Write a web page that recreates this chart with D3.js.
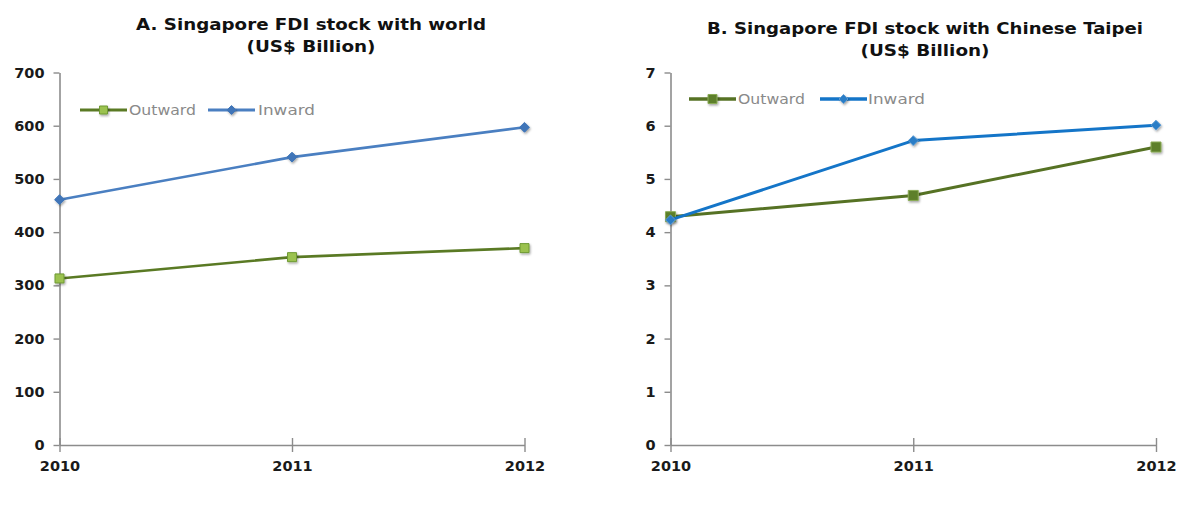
<!DOCTYPE html>
<html>
<head>
<meta charset="utf-8">
<script src="https://cdn.jsdelivr.net/npm/d3@7"></script>
<style>
  html, body { margin: 0; padding: 0; background: #fff; }
  svg { display: block; }
  text { font-family: "DejaVu Sans", Verdana, sans-serif; }
</style>
</head>
<body>
<svg id="chart" width="1190" height="529"></svg>
<script>
// Years on the category axis
const years = [2010, 2011, 2012];

// Panel A: Singapore FDI stock with world (US$ billion)
const worldOutward = [313, 353, 370];
const worldInward  = [461, 541, 597];
const worldTicks   = [0, 100, 200, 300, 400, 500, 600, 700];

// Panel B: Singapore FDI stock with Chinese Taipei (US$ billion)
const taipeiOutward = [4.29, 4.69, 5.60];
const taipeiInward  = [4.23, 5.72, 6.01];
const taipeiTicks   = [0, 1, 2, 3, 4, 5, 6, 7];

const seriesNames = ["Outward", "Inward"];

const svg = d3.select("#chart");

const defs = svg.append("defs");
const shadow = defs.append("filter").attr("id", "mshadow")
  .attr("x", "-50%").attr("y", "-50%").attr("width", "200%").attr("height", "200%");
shadow.append("feDropShadow").attr("dx", 1).attr("dy", 1.5).attr("stdDeviation", 1)
  .attr("flood-color", "#000").attr("flood-opacity", 0.35);

const panels = [
  {
    title: ["A. Singapore FDI stock with world", "(US$ Billion)"],
    titleX: 311, titleY: [30, 52], titleLen: [350, 129],
    x0: 59.5, x1: 524.5, yTop: 72.5, yBottom: 445,
    ticks: worldTicks,
    series: [
      { values: worldOutward, line: "#5a7a24", width: 2.6, marker: "square",
        fill: "#9bc24f", stroke: "#6f9a34", size: 9 },
      { values: worldInward, line: "#4a7fc1", width: 2.6, marker: "diamond",
        fill: "#3f75b8", stroke: "#3f75b8", size: 10 }
    ],
    legend: { y: 110, items: [
      { x: 80, textX: 129, textLen: 67 },
      { x: 208, textX: 258, textLen: 57 }
    ] }
  },
  {
    title: ["B. Singapore FDI stock with Chinese Taipei", "(US$ Billion)"],
    titleX: 925, titleY: [34, 56], titleLen: [436, 129],
    x0: 670.5, x1: 1156, yTop: 72.5, yBottom: 445,
    ticks: taipeiTicks,
    series: [
      { values: taipeiOutward, line: "#567224", width: 3, marker: "square",
        fill: "#5d7f2a", stroke: "#8aab55", size: 10 },
      { values: taipeiInward, line: "#1475c8", width: 3, marker: "diamond",
        fill: "#2a7dc6", stroke: "#5b9ad4", size: 10 }
    ],
    legend: { y: 99, items: [
      { x: 689, textX: 738, textLen: 67 },
      { x: 820, textX: 868, textLen: 57 }
    ] }
  }
];

function drawMarker(g, type, cx, cy, s) {
  const sym = type === "square"
    ? d3.symbol(d3.symbolSquare, s.size * s.size)
    : d3.symbol(d3.symbolDiamond2, s.size * s.size * 0.62);
  g.append("path")
    .attr("d", sym())
    .attr("transform", `translate(${cx},${cy})`)
    .attr("fill", s.fill)
    .attr("stroke", s.stroke)
    .attr("stroke-width", 1)
    .attr("filter", "url(#mshadow)");
}

panels.forEach(p => {
  const g = svg.append("g");

  const x = d3.scalePoint().domain(years).range([p.x0, p.x1]);
  const y = d3.scaleLinear().domain([0, d3.max(p.ticks)]).range([p.yBottom, p.yTop]);

  // Title
  p.title.forEach((t, i) => {
    g.append("text")
      .attr("x", p.titleX).attr("y", p.titleY[i])
      .attr("text-anchor", "middle")
      .attr("font-size", 15).attr("font-weight", "bold").attr("fill", "#111")
      .attr("textLength", p.titleLen[i]).attr("lengthAdjust", "spacingAndGlyphs")
      .text(t);
  });

  // Y axis
  const yAxis = d3.axisLeft(y).tickValues(p.ticks).tickFormat(d3.format("d"))
    .tickSize(6).tickSizeOuter(0).tickPadding(9);
  const ya = g.append("g").attr("transform", `translate(${p.x0},0)`).call(yAxis);
  ya.select(".domain").attr("stroke", "#8c8c8c").attr("stroke-width", 1.6);
  ya.selectAll(".tick line").attr("stroke", "#8c8c8c").attr("stroke-width", 1.4);
  ya.selectAll(".tick text")
    .attr("font-size", 14.5).attr("font-weight", "bold").attr("fill", "#1a1a1a")
    .attr("font-family", "DejaVu Sans, Verdana, sans-serif");

  // X axis with crossing tick marks
  const xAxis = d3.axisBottom(x).tickFormat(d3.format("d"))
    .tickSize(7).tickSizeOuter(0).tickPadding(9);
  const xa = g.append("g").attr("transform", `translate(0,${p.yBottom})`).call(xAxis);
  xa.select(".domain").attr("stroke", "#8c8c8c").attr("stroke-width", 1.6);
  xa.selectAll(".tick line").attr("stroke", "#8c8c8c").attr("stroke-width", 1.4).attr("y1", -7);
  xa.selectAll(".tick text")
    .attr("font-size", 14.5).attr("font-weight", "bold").attr("fill", "#1a1a1a")
    .attr("font-family", "DejaVu Sans, Verdana, sans-serif");

  // Series lines and markers
  const line = d3.line().x((d, i) => x(years[i])).y(d => y(d));
  p.series.forEach(s => {
    g.append("path")
      .datum(s.values)
      .attr("d", line)
      .attr("fill", "none")
      .attr("stroke", s.line)
      .attr("stroke-width", s.width)
      .attr("stroke-linejoin", "round");
    s.values.forEach((v, i) => drawMarker(g, s.marker, x(years[i]), y(v), s));
  });

  // Legend
  p.series.forEach((s, i) => {
    const it = p.legend.items[i];
    const ly = p.legend.y;
    g.append("line")
      .attr("x1", it.x).attr("x2", it.x + 47)
      .attr("y1", ly).attr("y2", ly)
      .attr("stroke", s.line).attr("stroke-width", s.width + 0.6);
    drawMarker(g, s.marker, it.x + 23.5, ly, Object.assign({}, s, { size: s.size - 1 }));
    g.append("text")
      .attr("x", it.textX).attr("y", ly + 5)
      .attr("font-size", 14).attr("fill", "#8a8a8a")
      .attr("textLength", it.textLen).attr("lengthAdjust", "spacingAndGlyphs")
      .text(seriesNames[i]);
  });
});
</script>
</body>
</html>
